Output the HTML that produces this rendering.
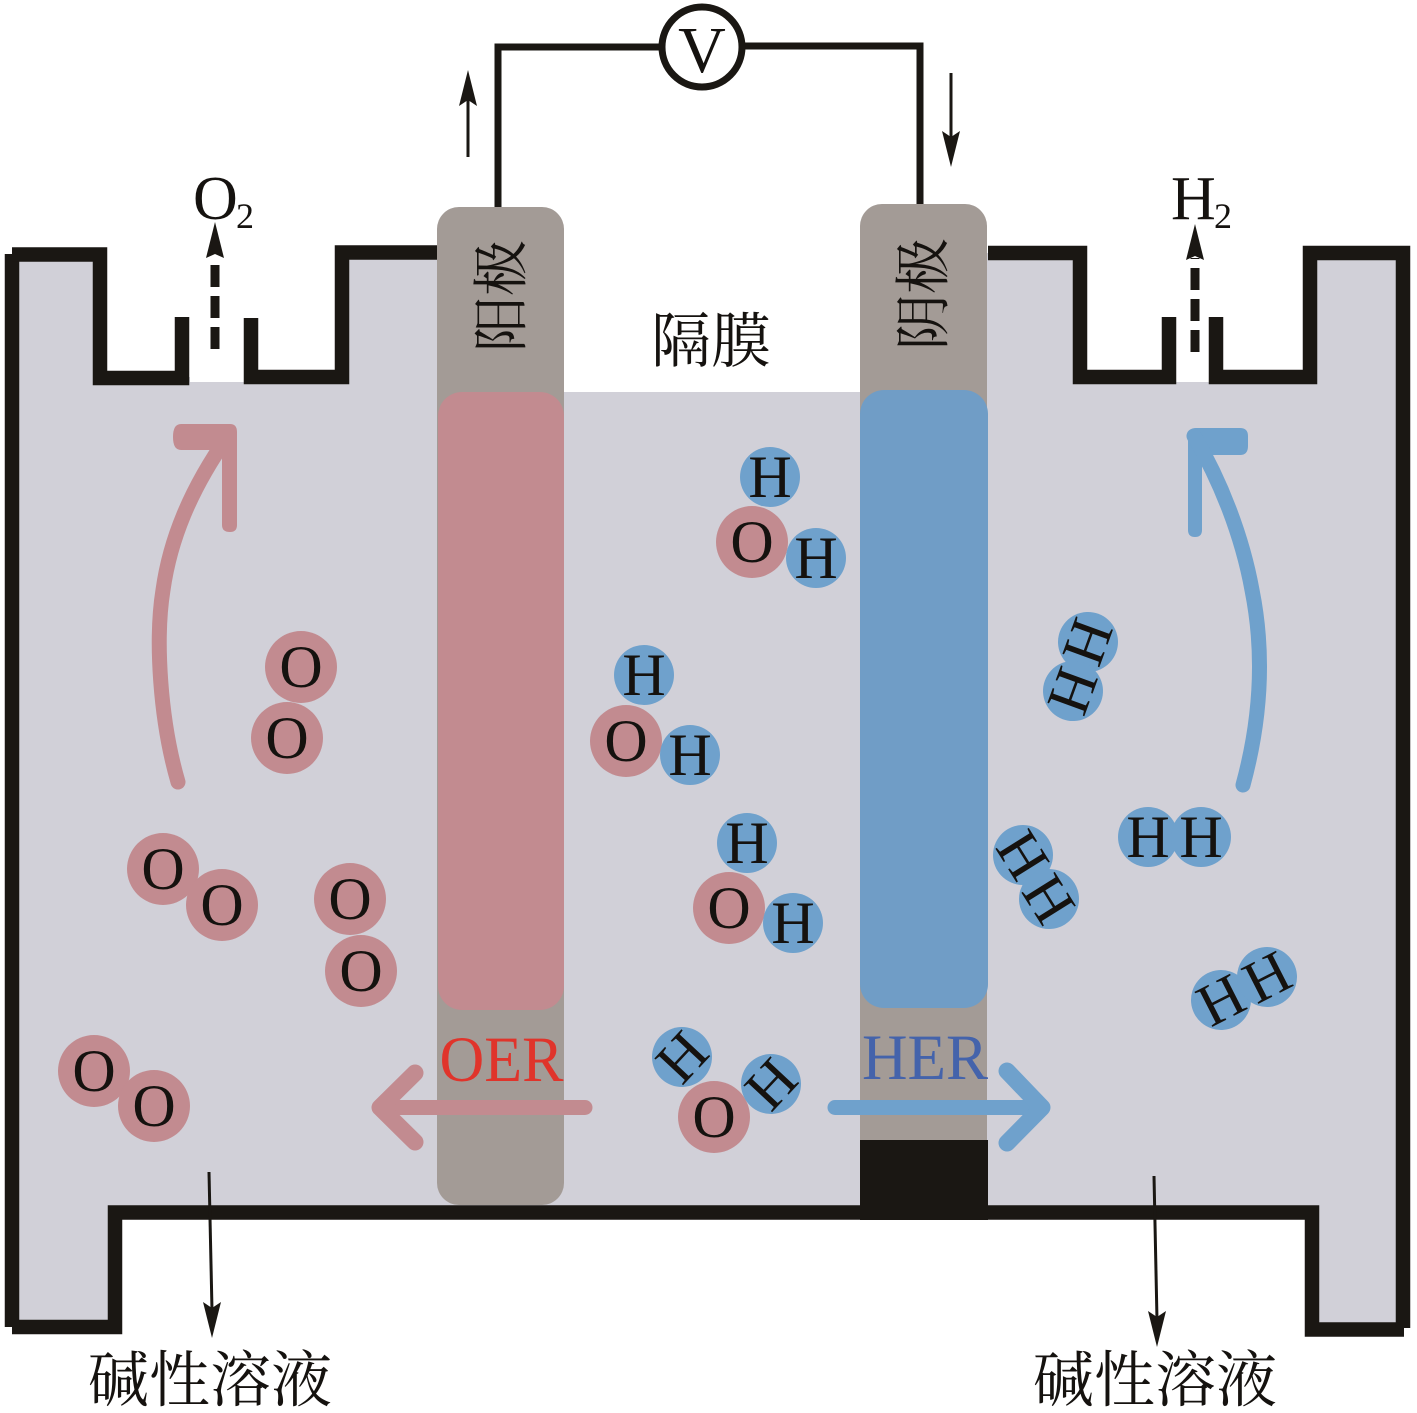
<!DOCTYPE html>
<html><head><meta charset="utf-8"><style>
html,body{margin:0;padding:0;background:#fff}
svg{display:block}
text{font-family:"Liberation Serif","Noto Serif CJK SC",serif;fill:#15120f}
.c{font-family:"Noto Serif CJK SC","Liberation Serif",serif}
.a{font-size:60px;text-anchor:middle}
</style></head><body>
<svg width="1417" height="1413" viewBox="0 0 1417 1413" xmlns="http://www.w3.org/2000/svg">
<defs>
<g id="ho"><circle r="36" fill="#c28b90"/><text class="a" y="20">O</text></g>
<g id="hh"><circle r="30" fill="#6fa1cc"/><text class="a" y="20">H</text></g>
</defs>
<!-- liquid -->
<path d="M12 255H100V377H190V382H250V377H342V253H440V392H860V253H1080V377H1169V382H1216V377H1310V253H1403V1329H1312V1212H115V1327H12Z" fill="#d1d0d8"/>
<!-- walls -->
<g fill="none" stroke="#1a1713" stroke-width="14.5" stroke-linejoin="miter">
<path d="M12 1327H115V1212.5H860M988 1212.5H1312V1329.5H1404"/>
<path d="M1403 1328V253H1310V377H1216V317"/>
<path d="M1169 317V377H1080V253H988"/>
<path d="M12 1327V254"/>
<path d="M12 254.5H100V378H182V317"/>
<path d="M251 318V377H342V252.5H438"/>
</g>
<!-- electrodes -->
<rect x="437" y="207" width="127" height="998" rx="22" fill="#a39b96"/>
<rect x="860" y="204" width="127" height="960" rx="22" fill="#a39b96"/>
<rect x="860" y="1140" width="128" height="80" fill="#1a1713"/>
<rect x="438" y="392" width="126" height="618" rx="24" fill="#c28b90"/>
<rect x="860" y="390" width="128" height="618" rx="24" fill="#709dc6"/>
<!-- wires -->
<path d="M498 207V47H662M742 46H920V204" fill="none" stroke="#1a1713" stroke-width="7"/>
<circle cx="702" cy="47" r="40" fill="#fff" stroke="#1a1713" stroke-width="7"/>
<text x="702" y="72" font-size="66" text-anchor="middle">V</text>
<!-- small arrows -->
<g stroke="#1a1713" fill="none">
<path d="M468 157V95" stroke-width="3"/>
<path d="M951 73V140" stroke-width="3"/>
<path d="M209 1172L212 1310" stroke-width="3"/>
<path d="M1154 1176L1157 1320" stroke-width="3"/>
<path d="M215 349V256" stroke-width="9" stroke-dasharray="22 9"/>
<path d="M1195 352V258" stroke-width="9" stroke-dasharray="22 9"/>
</g>
<g fill="#1a1713">
<path d="M468 70L477 106L468 100L459 106Z"/>
<path d="M951 167L960 131L951 137L942 131Z"/>
<path d="M212 1338L221 1302L212 1308L203 1302Z"/>
<path d="M1157 1347L1166 1311L1157 1317L1148 1311Z"/>
<path d="M215 222L224 258L215 254L206 258Z"/>
<path d="M1195 224L1204 260L1195 256L1186 260Z"/>
</g>
<!-- flow arrows -->
<path d="M181 424H230Q237 424 237 432V525Q237 532 230 532Q222 532 222 525V450H181Q173 450 173 437Q173 424 181 424Z" fill="#c28b90"/>
<path d="M1196 428H1240Q1248 428 1248 436V446Q1248 455 1240 455H1202V530Q1202 537 1195 537Q1188 537 1188 530V436Q1188 428 1196 428Z" fill="#6fa1cc"/>
<g fill="none" stroke-width="15" stroke-linecap="round" stroke-linejoin="round">
<g stroke="#c28b90">
<path d="M178 782C160 720 155 640 163 590C170 540 190 490 228 436"/>
<path d="M585 1107.5H385"/>
<path d="M415 1073L380 1107.5L415 1142" stroke-width="17"/>
</g>
<g stroke="#6fa1cc">
<path d="M1243 785C1262 715 1264 650 1252 590C1242 535 1220 480 1194 436"/>
<path d="M835 1107.5H1040"/>
<path d="M1007 1071L1042 1107.5L1007 1143" stroke-width="17"/>
</g>
</g>
<!-- O2 molecules -->
<use href="#ho" x="301" y="667"/><use href="#ho" x="287" y="738"/>
<use href="#ho" x="163" y="869"/><use href="#ho" x="222" y="905"/>
<use href="#ho" x="350" y="899"/><use href="#ho" x="361" y="971"/>
<use href="#ho" x="94" y="1071"/><use href="#ho" x="154" y="1106"/>
<!-- H2O molecules -->
<use href="#ho" x="752" y="542"/><use href="#hh" x="770" y="477"/><use href="#hh" x="816" y="558"/>
<use href="#ho" x="626" y="741"/><use href="#hh" x="644" y="675"/><use href="#hh" x="690" y="755"/>
<use href="#ho" x="729" y="908"/><use href="#hh" x="747" y="843"/><use href="#hh" x="793" y="923"/>
<use href="#ho" x="714" y="1117"/>
<use href="#hh" transform="translate(682 1057) rotate(-47)"/>
<use href="#hh" transform="translate(771 1084) rotate(-47)"/>
<!-- H2 molecules -->
<use href="#hh" transform="translate(1088 642) rotate(110)"/>
<use href="#hh" transform="translate(1073 691) rotate(110)"/>
<use href="#hh" transform="translate(1023 855) rotate(58)"/>
<use href="#hh" transform="translate(1049 899) rotate(58)"/>
<use href="#hh" x="1148" y="837"/><use href="#hh" x="1201" y="837"/>
<use href="#hh" transform="translate(1221 1000) rotate(-27)"/>
<use href="#hh" transform="translate(1267 977) rotate(-27)"/>
<!-- labels -->
<text class="c" font-size="56" text-anchor="middle" transform="translate(521 296) rotate(-90)">阳极</text>
<text class="c" font-size="56" text-anchor="middle" transform="translate(943 294) rotate(-90)">阴极</text>
<text class="c" x="711" y="362" font-size="60" text-anchor="middle">隔膜</text>
<text class="c" x="210" y="1401" font-size="61" text-anchor="middle">碱性溶液</text>
<text class="c" x="1155" y="1401" font-size="61" text-anchor="middle">碱性溶液</text>
<text x="501.5" y="1081" font-size="65" text-anchor="middle" textLength="124" lengthAdjust="spacingAndGlyphs" style="fill:#e0342b">OER</text>
<text x="925" y="1079" font-size="65" text-anchor="middle" textLength="126" lengthAdjust="spacingAndGlyphs" style="fill:#4463ab">HER</text>
<text x="193" y="219" font-size="62">O</text><text x="236" y="228" font-size="36">2</text>
<text x="1171" y="219" font-size="62">H</text><text x="1214" y="228" font-size="36">2</text>
</svg>
</body></html>
